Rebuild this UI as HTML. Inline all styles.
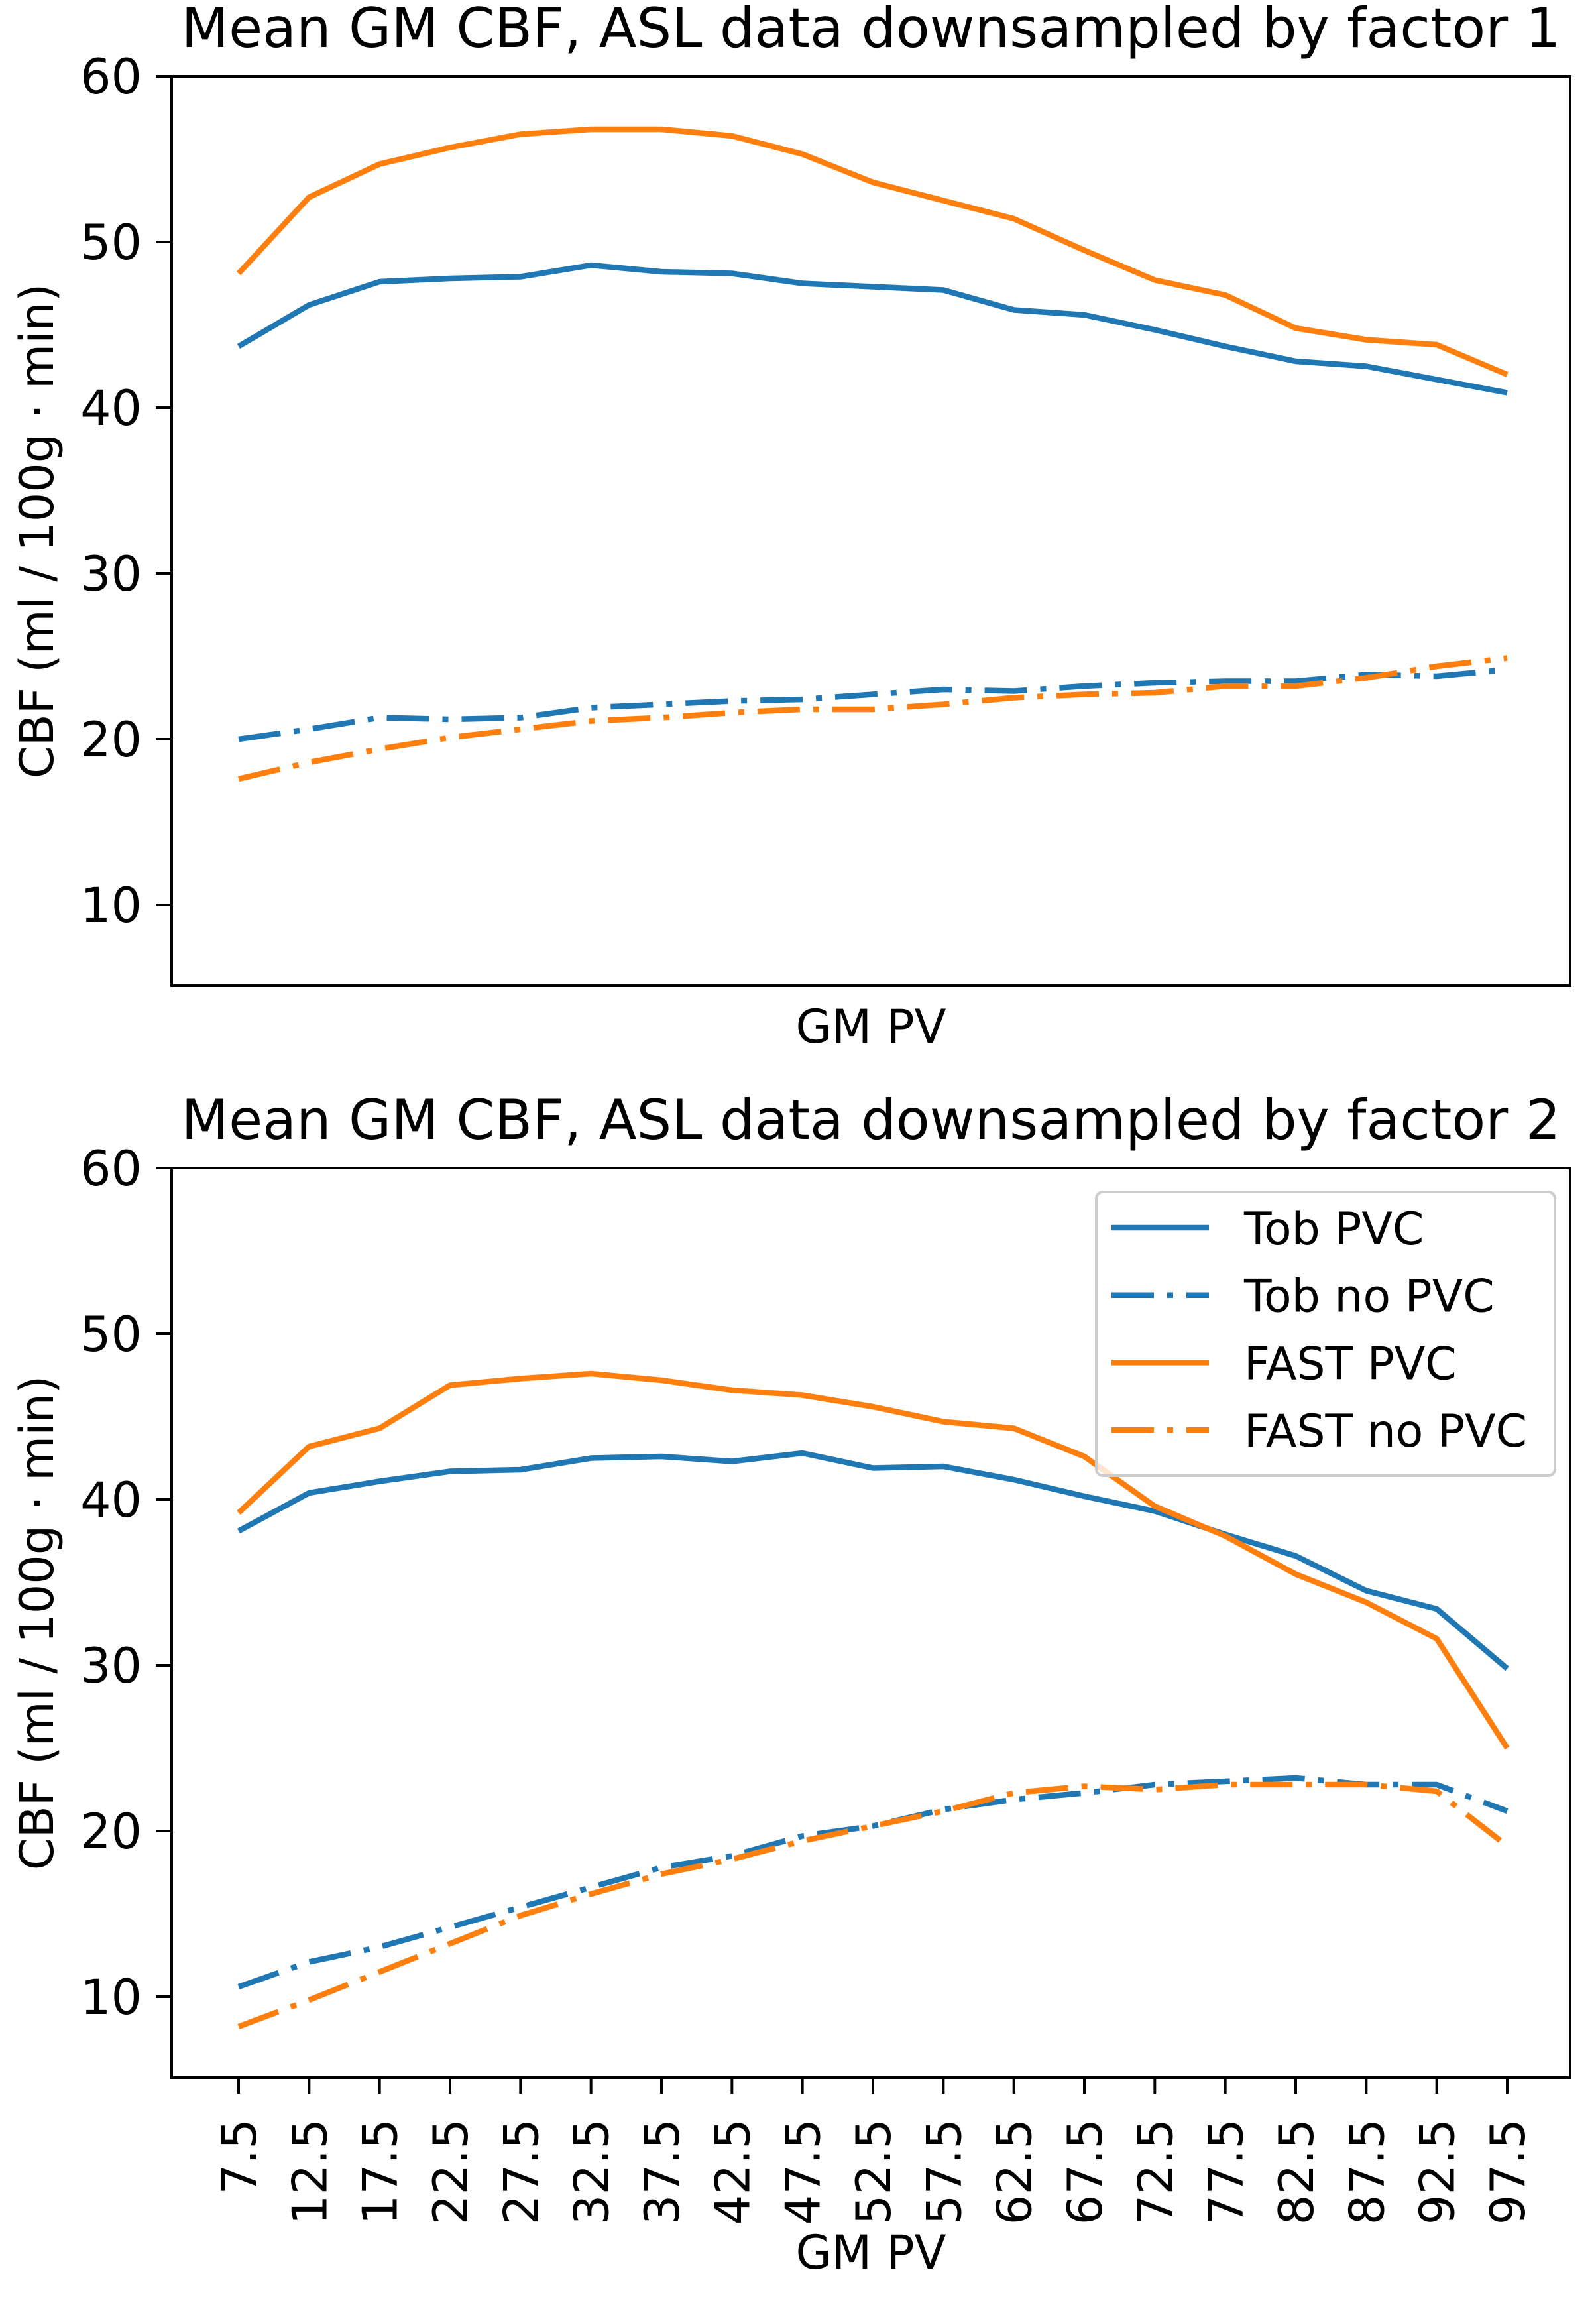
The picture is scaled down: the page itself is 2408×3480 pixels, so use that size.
<!DOCTYPE html>
<html><head><meta charset="utf-8"><style>
html,body{margin:0;padding:0;background:#fff;}
svg{display:block;font-family:"DejaVu Sans","Liberation Sans",sans-serif;}
</style></head><body>
<svg id="chart" width="2408" height="3480" viewBox="0 0 2408 3480" xmlns="http://www.w3.org/2000/svg"></svg>
<script>
const categories = ["7.5","12.5","17.5","22.5","27.5","32.5","37.5","42.5","47.5","52.5","57.5","62.5","67.5","72.5","77.5","82.5","87.5","92.5","97.5"];
const yTicks = [10,20,30,40,50,60];
const top_tobPVC = [43.7,46.2,47.6,47.8,47.9,48.6,48.2,48.1,47.5,47.3,47.1,45.9,45.6,44.7,43.7,42.8,42.5,41.7,40.9];
const top_fastPVC = [48.1,52.7,54.7,55.7,56.5,56.8,56.8,56.4,55.3,53.6,52.5,51.4,49.5,47.7,46.8,44.8,44.1,43.8,42.0];
const top_tobNoPVC = [20.0,20.6,21.3,21.2,21.3,21.9,22.1,22.3,22.4,22.7,23.0,22.9,23.2,23.4,23.5,23.5,23.9,23.8,24.2];
const top_fastNoPVC = [17.6,18.6,19.4,20.1,20.6,21.1,21.3,21.6,21.8,21.8,22.1,22.5,22.7,22.8,23.2,23.2,23.7,24.4,24.9];
const bot_tobPVC = [38.1,40.4,41.1,41.7,41.8,42.5,42.6,42.3,42.8,41.9,42.0,41.2,40.2,39.3,37.9,36.6,34.5,33.4,29.8];
const bot_fastPVC = [39.2,43.2,44.3,46.9,47.3,47.6,47.2,46.6,46.3,45.6,44.7,44.3,42.6,39.6,37.8,35.5,33.8,31.6,25.0];
const bot_tobNoPVC = [10.6,12.1,13.0,14.2,15.4,16.6,17.8,18.5,19.7,20.3,21.3,21.9,22.3,22.8,23.0,23.2,22.8,22.8,21.2];
const bot_fastNoPVC = [8.2,9.8,11.5,13.2,14.9,16.2,17.4,18.3,19.4,20.3,21.2,22.3,22.7,22.5,22.8,22.8,22.8,22.4,19.1];

const NS = "http://www.w3.org/2000/svg";
const svg = document.getElementById('chart');
const BLUE = "#1f77b4", ORANGE = "#ff7f0e";
const DASH = "64 20 9 20";
const LW = 8.5;
function mk(tag, attrs, parent){ const e=document.createElementNS(NS,tag); for(const k in attrs) e.setAttribute(k,attrs[k]); (parent||svg).appendChild(e); return e; }

const L=259, R=2369;
const x0=360, dx=(2274-360)/18;
function xPos(i){ return x0 + i*dx; }

function panel(top, title, series, showTicks, name){
  const g = mk('g',{});
  
  
  const per = 25;
  const y60 = top;
  const bottom = y60 + (60-5.12)*per;
  const yPos = v => y60 + (60 - v)*per;
  series.forEach(s=>{
    const pts = s.data.map((v,i)=>xPos(i).toFixed(1)+","+yPos(v).toFixed(1)).join(" ");
    const pl = mk('polyline',{points:pts,fill:"none",stroke:s.color,"stroke-width":LW,"stroke-linejoin":"round","stroke-linecap":"butt"},g);
    if(s.dash) pl.setAttribute('stroke-dasharray',DASH);
    
    
  });
  const box = mk('rect',{x:L,y:y60,width:R-L,height:bottom-y60,fill:"none",stroke:"#000","stroke-width":4},g);
  
  
  yTicks.forEach(v=>{
    const y=yPos(v);
    mk('line',{x1:L-24,x2:L,y1:y,y2:y,stroke:"#000","stroke-width":4},g);
    const t = mk('text',{x:L-45,y:y+26,"text-anchor":"end","font-size":73},g);
    t.textContent = v;
    
    
  });
  if(showTicks){
    categories.forEach((c,i)=>{
      const x=xPos(i);
      mk('line',{x1:x,x2:x,y1:bottom,y2:bottom+24,stroke:"#000","stroke-width":4},g);
      const t = mk('text',{x:0,y:0,"text-anchor":"end","font-size":72,transform:`translate(${x+26},${bottom+62}) rotate(-90)`},g);
      t.textContent = c;
      
      
    });
  }
  const tt = mk('text',{x:(L+R)/2,y:top-44,"text-anchor":"middle","font-size":83},g);
  tt.textContent = title;
  
  
  const yl = mk('text',{x:0,y:0,"text-anchor":"middle","font-size":70,transform:`translate(80,${(y60+bottom)/2}) rotate(-90)`},g);
  yl.textContent = "CBF (ml / 100g · min)";
  
  
  const xl = mk('text',{x:(L+R)/2,y:showTicks?3422:1573,"text-anchor":"middle","font-size":70},g);
  xl.textContent = "GM PV";
  
  
}

panel(115,"Mean GM CBF, ASL data downsampled by factor 1",[
  {data:top_tobPVC,color:BLUE,dash:false,name:"top-tob-pvc-line"},
  {data:top_tobNoPVC,color:BLUE,dash:true,name:"top-tob-no-pvc-line"},
  {data:top_fastPVC,color:ORANGE,dash:false,name:"top-fast-pvc-line"},
  {data:top_fastNoPVC,color:ORANGE,dash:true,name:"top-fast-no-pvc-line"}
],false,"top-panel");
panel(1762,"Mean GM CBF, ASL data downsampled by factor 2",[
  {data:bot_tobPVC,color:BLUE,dash:false,name:"bottom-tob-pvc-line"},
  {data:bot_tobNoPVC,color:BLUE,dash:true,name:"bottom-tob-no-pvc-line"},
  {data:bot_fastPVC,color:ORANGE,dash:false,name:"bottom-fast-pvc-line"},
  {data:bot_fastNoPVC,color:ORANGE,dash:true,name:"bottom-fast-no-pvc-line"}
],true,"bottom-panel");

const lg = mk('g',{});


mk('rect',{x:1654,y:1798,width:692,height:428,rx:10,fill:"#fff","fill-opacity":0.8,stroke:"#ccc","stroke-width":4},lg);
const legendLabels = ["Tob PVC","Tob no PVC","FAST PVC","FAST no PVC"];
const legendColors = [BLUE,BLUE,ORANGE,ORANGE];
const legendDash = [false,true,false,true];
legendLabels.forEach((lab,i)=>{
  const y = 1852 + i*101.7;
  const ln = mk('line',{x1:1677,x2:1824,y1:y,y2:y,stroke:legendColors[i],"stroke-width":LW},lg);
  if(legendDash[i]) ln.setAttribute('stroke-dasharray',DASH);
  const t = mk('text',{x:1877,y:y+25,"font-size":68},lg);
  t.textContent = lab;
  
  
});
</script>
</body></html>
